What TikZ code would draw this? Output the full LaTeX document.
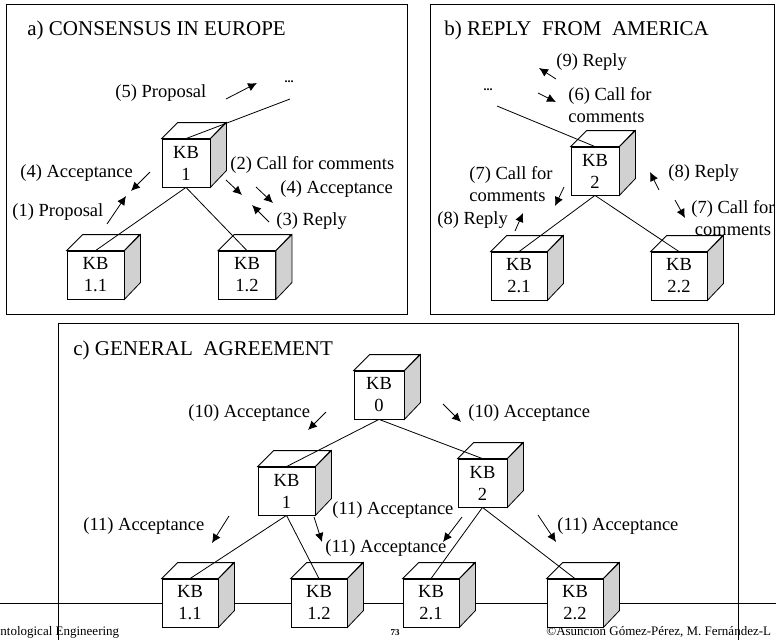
\documentclass[tikz,border=0pt]{standalone}
\usepackage{fontspec}
\setmainfont{Liberation Serif}
\usetikzlibrary{arrows.meta,calc}
\definecolor{kbside}{gray}{0.82}
\tikzstyle{kbfront} = [rectangle, draw, fill=white, align=center, inner sep=0pt,
    minimum height=48, font=\fontsize{18.5}{22}\selectfont]
\tikzstyle{msg} = [draw, -{Latex[length=9pt,width=8.5pt]}]
\tikzstyle{lbl} = [anchor=west, inner sep=0pt, align=left,
    font=\fontsize{18.5}{22}\selectfont]
\tikzstyle{title} = [anchor=west, inner sep=0pt, font=\fontsize{21}{24}\selectfont]
\tikzstyle{dots} = [inner sep=0pt, font=\fontsize{12}{12}\selectfont\bfseries]
\tikzstyle{panel} = [draw, line width=0.9pt]
% knowledge base drawn as a box: front face, top and shaded side
\newcommand{\kbbox}[4]{%
  \node[kbfront, minimum width=#3] (#1) at (#2) {KB\\#4};
  \draw[fill=white] (#1.north west) -- ++(16,-16) -- ++(#3,0) -- (#1.north east) -- cycle;
  \draw[fill=kbside] (#1.north east) -- ++(16,-16) -- ++(0,48) -- (#1.south east) -- cycle;
}

\begin{document}
\begin{tikzpicture}[x=1pt, y=-1pt, line width=0.8pt]
  \useasboundingbox (0,0) rectangle (776,640);

  % frames and footer rule
  \draw[panel] (6,4) rectangle (407,314);
  \draw[panel] (430,4) rectangle (774,314);
  \draw[panel] (58,640) -- (58,323) -- (738,323) -- (738,640);
  \draw[panel] (0,603) -- (776,603);

  \node[anchor=west, inner sep=0pt, font=\fontsize{13}{15}\selectfont] (course) at (0,632) {ntological Engineering};
  \node[inner sep=0pt, font=\fontsize{9}{10}\selectfont\bfseries] (page) at (395,633) {73};
  \node[anchor=west, inner sep=0pt, font=\fontsize{13}{15}\selectfont] (copy) at (546,632) {©Asunción Gómez-Pérez, M. Fernández-L};

  %% a) consensus in Europe
  \node[title] (ta) at (27,30) {a) CONSENSUS IN EUROPE};
  \kbbox{a1}{186,163}{48}{1}
  \kbbox{a11}{95.5,275}{57}{1.1}
  \kbbox{a12}{247,275}{57}{1.2}
  \node[dots] (adots) at (289,82) {...};
  \coordinate (aup) at (290,99);
  \draw (a1.north) -- (aup);
  \draw (a1.south) -- (a11.north);
  \draw (a1.south) -- (a12.north);

  \node[lbl] (a5) at (115,93) {(5) Proposal};
  \node[lbl] (a4l) at (20,173) {(4) Acceptance};
  \node[lbl] (a1p) at (12,212) {(1) Proposal};
  \node[lbl] (a2) at (230,165) {(2) Call for comments};
  \node[lbl] (a4r) at (280,189) {(4) Acceptance};
  \node[lbl] (a3) at (276,221) {(3) Reply};
  \path[msg] (226,99) -- (257,83);
  \path[msg] (150,172) -- (131,191);
  \path[msg] (107,224) -- (126,196);
  \path[msg] (226,180) -- (242,195);
  \path[msg] (256,187) -- (273,203);
  \path[msg] (269,222) -- (252,205);

  %% b) reply from America
  \node[title] (tb) at (444,30) {b) REPLY~~FROM~~AMERICA};
  \kbbox{b2}{595,171}{48}{2}
  \kbbox{b21}{519,276}{56}{2.1}
  \kbbox{b22}{679,276}{56}{2.2}
  \node[dots] (bdots) at (488,90) {...};
  \coordinate (bup) at (497,106);
  \draw (bup) -- (b2.north);
  \draw (b2.south) -- (b21.north);
  \draw (b2.south) -- (b22.north);

  \node[lbl] (b9) at (556,62) {(9) Reply};
  \node[lbl] (b6) at (568,105) {(6) Call for\\comments};
  \node[lbl] (b7l) at (469,184.5) {(7) Call for\\comments};
  \node[lbl] (b8l) at (437,220) {(8) Reply};
  \node[lbl] (b8r) at (668,173) {(8) Reply};
  \node[lbl, anchor=center, align=center] (b7r) at (733,218.5) {(7) Call for\\comments};
  \path[msg] (556,79) -- (539,68);
  \path[msg] (538,93) -- (556,102);
  \path[msg] (564,187) -- (555,206);
  \path[msg] (515,231) -- (523,213);
  \path[msg] (659,190) -- (650,172);
  \path[msg] (675,200) -- (685,218);

  %% c) general agreement
  \node[title] (tc) at (73,350) {c) GENERAL~~AGREEMENT};
  \kbbox{c0}{379,395}{50}{0}
  \kbbox{c1}{286.5,491}{57}{1}
  \kbbox{c2}{482.5,483}{49}{2}
  \kbbox{c11}{190,603}{56}{1.1}
  \kbbox{c12}{319,603}{56}{1.2}
  \kbbox{c21}{431,603}{56}{2.1}
  \kbbox{c22}{575,603}{56}{2.2}
  \draw (c0.south) -- (c1.north);
  \draw (c0.south) -- (c2.north);
  \draw (c1.south) -- (c11.north);
  \draw (c1.south) -- (c12.north);
  \draw (c2.south) -- (c21.north);
  \draw (c2.south) -- (c22.north);

  \node[lbl] (c10l) at (188,413) {(10) Acceptance};
  \node[lbl] (c10r) at (468,413) {(10) Acceptance};
  \node[lbl] (c11l) at (83,526) {(11) Acceptance};
  \node[lbl] (c11u) at (332,510) {(11) Acceptance};
  \node[lbl] (c11d) at (325,548) {(11) Acceptance};
  \node[lbl] (c11r) at (557,526) {(11) Acceptance};
  \path[msg] (326,412) -- (308,430);
  \path[msg] (443,404) -- (461,422);
  \path[msg] (229,516) -- (212,543);
  \path[msg] (314,517) -- (322,542);
  \path[msg] (462,517) -- (443,542);
  \path[msg] (538,515) -- (556,542);
\end{tikzpicture}
\end{document}
